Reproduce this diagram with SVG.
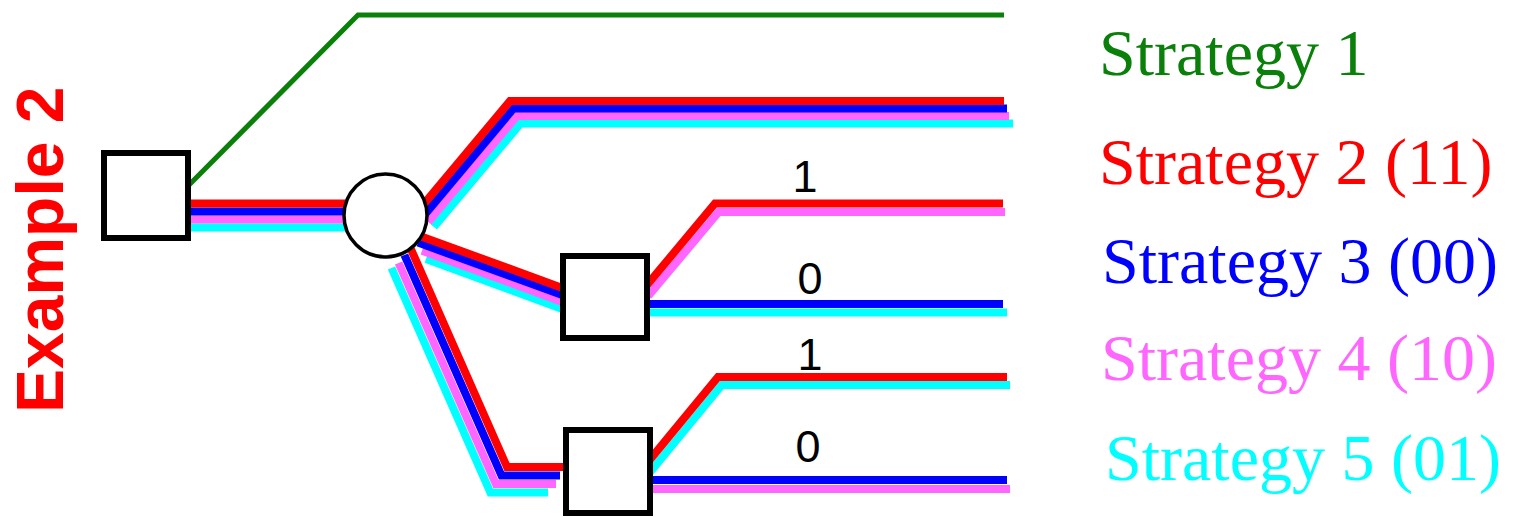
<svg xmlns="http://www.w3.org/2000/svg" width="1515" height="517" viewBox="0 0 1515 517">
<style>
.s{fill:none;stroke-width:8;stroke-linejoin:miter;stroke-linecap:butt}
.g{fill:none;stroke:#0a800a;stroke-width:5}
.r{stroke:#ff0000}
.b{stroke:#0000ff}
.p{stroke:#ff66ff}
.c{stroke:#00ffff}
.node{fill:#ffffff;stroke:#000000;stroke-width:6}
.chance{fill:#ffffff;stroke:#000000;stroke-width:3.5}
.lab{font-family:"Liberation Serif","Times New Roman",serif;font-size:66px}
.bit{font-family:"Liberation Sans",Arial,sans-serif;font-size:45px;fill:#000000;text-anchor:middle}
</style>
<g id="connectors">
<path id="strategy1" class="g" d="M185,189 L358,15 H1004"/>
<path id="strategy5" class="s c" d="M186,227.5 H345 M433.9,227 L520.5,123.5 H1013 M426,259.1 L563,309.2 M648,312.5 H1007 M391.5,268 L490.4,492.5 H548 M650,472.2 L721.8,385 H1010"/>
<path id="strategy4" class="s p" d="M186,219.5 H345 M428.3,222 L517,116 H1009 M422,250.7 L563,302.2 M648,296.2 L718.7,212 H1005 M398.6,263 L495.9,484 H556 M648,489 H1010"/>
<path id="strategy3" class="s b" d="M186,211.5 H345 M423.6,215.9 L513.5,108.5 H1007 M418,242.6 L563,295.2 M648,304 H1003 M404.4,255 L501.5,475.5 H560 M648,480 H1007"/>
<path id="strategy2" class="s r" d="M186,203.5 H345 M420,208.6 L510,101 H1004 M413,233.4 L563,288.2 M645,287.4 L715,203.5 H1003 M410,247 L507,467 H563 M646,464.4 L718,377 H1007"/>
</g>
<g id="decision1"><rect class="node" x="104" y="153" width="84" height="85"/></g>
<g id="chance1"><circle class="chance" cx="385.5" cy="215.5" r="41.5"/></g>
<g id="decision2"><rect class="node" x="563" y="256" width="84" height="82"/></g>
<g id="decision3"><rect class="node" x="566" y="430" width="84" height="83"/></g>
<g id="branch-labels">
<text class="bit" x="805" y="192">1</text>
<text class="bit" x="810" y="294">0</text>
<text class="bit" x="810" y="370">1</text>
<text class="bit" x="808" y="462">0</text>
</g>
<g id="legend">
<text class="lab" x="1099" y="75" fill="#0a800a">Strategy 1</text>
<text class="lab" x="1099" y="184" fill="#ff0000">Strategy 2 (11)</text>
<text class="lab" x="1102" y="283" fill="#0000ff">Strategy 3 (00)</text>
<text class="lab" x="1101" y="380" fill="#ff66ff">Strategy 4 (10)</text>
<text class="lab" x="1105" y="480" fill="#00ffff">Strategy 5 (01)</text>
</g>
<g id="title">
<text x="0" y="0" transform="translate(63,413) rotate(-90)" font-family="'Liberation Sans',Arial,sans-serif" font-weight="bold" font-size="66" fill="#ff0000">Example 2</text>
</g>
</svg>
